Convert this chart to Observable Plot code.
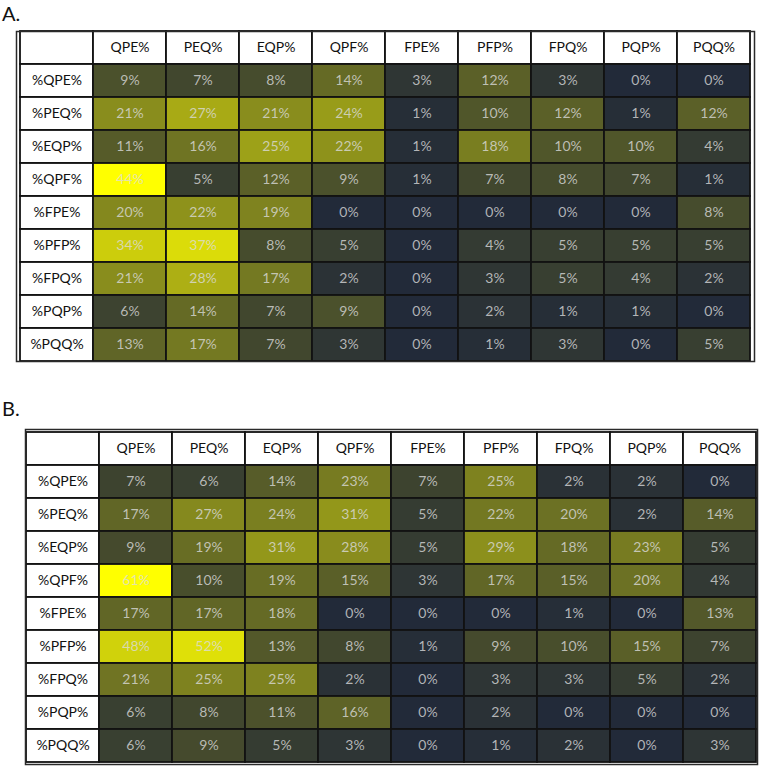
<!DOCTYPE html>
<html>
<head>
<meta charset="utf-8">
<script src="https://cdn.jsdelivr.net/npm/d3@7"></script>
<script src="https://cdn.jsdelivr.net/npm/@observablehq/plot@0.6"></script>
<style>
  html, body { margin: 0; padding: 0; background: #fff; }
  #wrap { position: relative; width: 759px; height: 766px; font-family: Lato, sans-serif; }
  .lbl { position: absolute; font-size: 20px; line-height: 1; color: #111; }
  .plot { position: absolute; left: 0; }
</style>
</head>
<body>
<div id="wrap">
  <div class="lbl" id="la" style="left:2px; top:3px;">A.</div>
  <div class="lbl" id="lb" style="left:2px; top:398px;">B.</div>
  <div class="plot" id="pa" style="top:0px;"></div>
  <div class="plot" id="pb" style="top:370px;"></div>
</div>
<script>
const columns = ["QPE%", "PEQ%", "EQP%", "QPF%", "FPE%", "PFP%", "FPQ%", "PQP%", "PQQ%"];
const rowLabels = ["%QPE%", "%PEQ%", "%EQP%", "%QPF%", "%FPE%", "%PFP%", "%FPQ%", "%PQP%", "%PQQ%"];

const valuesA = [
  [9, 7, 8, 14, 3, 12, 3, 0, 0],
  [21, 27, 21, 24, 1, 10, 12, 1, 12],
  [11, 16, 25, 22, 1, 18, 10, 10, 4],
  [44, 5, 12, 9, 1, 7, 8, 7, 1],
  [20, 22, 19, 0, 0, 0, 0, 0, 8],
  [34, 37, 8, 5, 0, 4, 5, 5, 5],
  [21, 28, 17, 2, 0, 3, 5, 4, 2],
  [6, 14, 7, 9, 0, 2, 1, 1, 0],
  [13, 17, 7, 3, 0, 1, 3, 0, 5]
];

const valuesB = [
  [7, 6, 14, 23, 7, 25, 2, 2, 0],
  [17, 27, 24, 31, 5, 22, 20, 2, 14],
  [9, 19, 31, 28, 5, 29, 18, 23, 5],
  [61, 10, 19, 15, 3, 17, 15, 20, 4],
  [17, 17, 18, 0, 0, 0, 1, 0, 13],
  [48, 52, 13, 8, 1, 9, 10, 15, 7],
  [21, 25, 25, 2, 0, 3, 3, 5, 2],
  [6, 8, 11, 16, 0, 2, 0, 0, 0],
  [6, 9, 5, 3, 0, 1, 2, 0, 3]
];

const scaleColors = ["#222a39", "#41472e", "#ffff00"];
const CORNER = "_";

function table(values, opts) {
  const cells = [];
  values.forEach((r, i) => r.forEach((v, j) => cells.push({row: rowLabels[i], col: columns[j], value: v})));
  const vals = cells.map(d => d.value);
  const med = d3.median(vals);
  const max = d3.max(vals);
  const gridStroke = "#121212";
  return Plot.plot({
    width: 759,
    height: opts.height,
    marginTop: opts.marginTop,
    marginBottom: opts.marginBottom,
    marginLeft: opts.marginLeft,
    marginRight: opts.marginRight,
    style: {fontFamily: "Lato, sans-serif", fontSize: "14px", background: "transparent"},
    x: {domain: [CORNER, ...columns], padding: 0, axis: null},
    y: {domain: [CORNER, ...rowLabels], padding: 0, axis: null},
    color: {type: "linear", domain: [0, med, max], range: scaleColors, interpolate: "rgb"},
    marks: [
      Plot.cell([CORNER], {x: d => d, y: d => d, fill: "white", stroke: gridStroke, strokeWidth: 1.8}),
      Plot.cell(columns, {x: d => d, y: () => CORNER, fill: "white", stroke: gridStroke, strokeWidth: 1.8}),
      Plot.cell(rowLabels, {x: () => CORNER, y: d => d, fill: "white", stroke: gridStroke, strokeWidth: 1.8}),
      Plot.cell(cells, {x: "col", y: "row", fill: "value", stroke: gridStroke, strokeWidth: 1.8}),
      Plot.text(columns, {x: d => d, y: () => CORNER, text: d => d, fill: "#111", fontSize: 14}),
      Plot.text(rowLabels, {x: () => CORNER, y: d => d, text: d => d, fill: "#111", fontSize: 14}),
      Plot.text(cells, {x: "col", y: "row", text: d => d.value + "%", fill: "#dcdcdc", fillOpacity: 0.78, fontSize: 14}),
      Plot.frame({stroke: "#2a2a2a", strokeWidth: 1.5})
    ]
  });
}

document.getElementById("pa").appendChild(table(valuesA, {height: 370, marginTop: 31, marginBottom: 9, marginLeft: 16, marginRight: 5}));
document.getElementById("pb").appendChild(table(valuesB, {height: 396, marginTop: 59, marginBottom: 2, marginLeft: 25, marginRight: 2}));
</script>
</body>
</html>
